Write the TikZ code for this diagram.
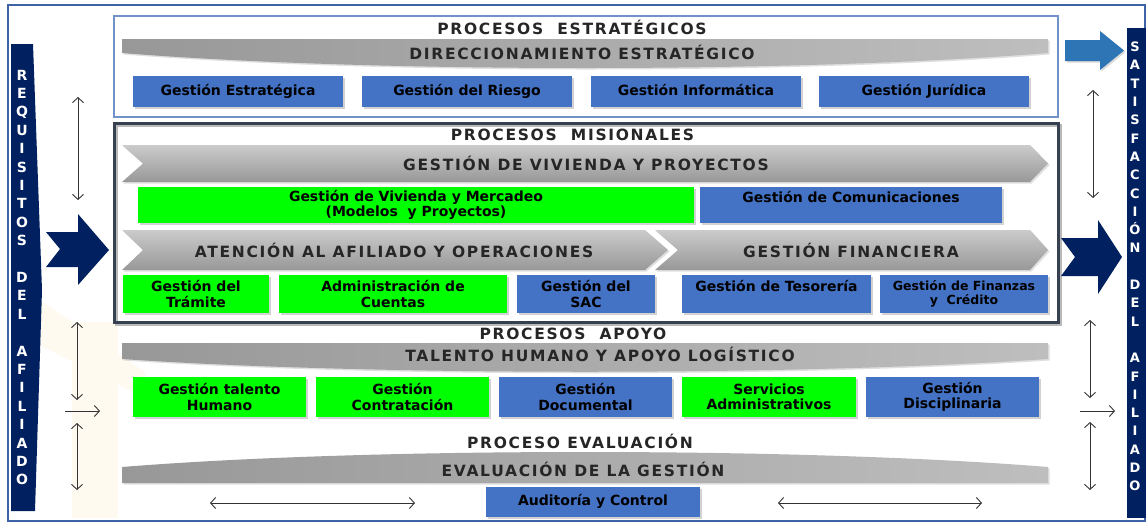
\documentclass[tikz,border=0pt]{standalone}
\usepackage{fontspec}
\setmainfont{DejaVu Sans}
\newfontfamily\headfont[LetterSpace=11]{DejaVu Sans}
\usepackage{tikz}
\usetikzlibrary{arrows.meta, shadows}

\definecolor{boxblue}{RGB}{68,114,196}
\definecolor{boxgreen}{RGB}{0,255,0}
\definecolor{navy}{RGB}{0,32,96}
\definecolor{lightarrow}{RGB}{46,117,182}
\definecolor{frameblue}{RGB}{62,100,168}
\definecolor{stratline}{RGB}{112,146,200}
\definecolor{misline}{RGB}{55,64,80}
\definecolor{bandA}{RGB}{152,152,152}
\definecolor{bandB}{RGB}{190,190,190}
\definecolor{cream}{RGB}{255,250,240}

\tikzset{
  procbox/.style={rectangle, inner sep=1pt, align=center, text=black,
    font=\fontsize{14}{15.5}\selectfont\bfseries,
    drop shadow={shadow xshift=2pt, shadow yshift=-2pt, opacity=0.35}},
  bluebox/.style={procbox, fill=boxblue},
  greenbox/.style={procbox, fill=boxgreen},
  oneline/.style={text height=10.5pt, text depth=3pt},
  titletext/.style={font=\headfont\bfseries\fontsize{15.5}{15.5}\selectfont, text=black!85},
  banner/.style={left color=bandA, right color=bandB,
    drop shadow={shadow xshift=1.5pt, shadow yshift=-1.5pt, opacity=0.25}},
  chevron/.style={top color=bandB!80!white, bottom color=bandA,
    drop shadow={shadow xshift=1.5pt, shadow yshift=-1.5pt, opacity=0.25}},
  twoway/.style={{Straight Barb[length=5pt,width=11pt]}-{Straight Barb[length=5pt,width=11pt]}, line width=0.9pt, black!80},
  oneway/.style={-{Straight Barb[length=5pt,width=11pt]}, line width=0.9pt, black!80},
  sideletters/.style={align=center, text=white, font=\bfseries\fontsize{14}{18.4}\selectfont}
}

\begin{document}
\begin{tikzpicture}[x=1pt, y=-1pt]
\useasboundingbox (0,0) rectangle (1148,523);
\fill[white] (0,0) rectangle (1148,523);

% faint background
\fill[cream] (40,300) -- (145,372) -- (145,398) -- (40,345) -- cycle;
\fill[cream] (72,322) rectangle (118,518);

% frames
\draw[frameblue, line width=2pt] (8,5) rectangle (1145,521);
\draw[stratline, line width=1.2pt] (114,16) rectangle (1058,117);
\draw[gray!55, line width=3pt] (116,125) rectangle (1060,324);
\draw[misline, line width=3pt] (114,123) rectangle (1058,322);

% side bars
\fill[navy] (11,44) -- (33,44) -- (42,290) -- (35,511) -- (11,511) -- cycle;
\fill[navy] (1127,28) rectangle (1146,518);
\node[sideletters] (req) at (22,277.5) {R\\E\\Q\\U\\I\\S\\I\\T\\O\\S\\~\\D\\E\\L\\~\\A\\F\\I\\L\\I\\A\\D\\O};
\node[sideletters, font=\bfseries\fontsize{13}{18.3}\selectfont] (sat) at (1135,266.5) {S\\A\\T\\I\\S\\F\\A\\C\\C\\I\\Ó\\N\\~\\D\\E\\L\\~\\A\\F\\I\\L\\I\\A\\D\\O};

% big arrows
\fill[navy] (46,232) -- (78,232) -- (78,214) -- (109,250) -- (78,285) -- (78,267) -- (46,267) -- (60,249) -- cycle;
\fill[navy] (1061,238) -- (1098,238) -- (1098,220) -- (1122,257) -- (1098,294) -- (1098,276) -- (1061,276) -- (1075,257) -- cycle;
\fill[lightarrow, drop shadow={shadow xshift=1.5pt, shadow yshift=-1.5pt, opacity=0.3}]
  (1065,40) -- (1100,40) -- (1100,31) -- (1124,50.5) -- (1100,70) -- (1100,61) -- (1065,61) -- cycle;

% estrategicos
\node[titletext] (tEst) at (572,27) {PROCESOS\ \ ESTRATÉGICOS};
\path[banner] (122,39) -- (1048,39) -- (1048,53) .. controls (800,73) and (370,73) .. (122,53) -- cycle;
\node[titletext] (dir) at (582,52) {DIRECCIONAMIENTO ESTRATÉGICO};
\node[bluebox, oneline, minimum width=210pt, minimum height=31pt] (ge) at (238,91.5) {Gestión Estratégica};
\node[bluebox, oneline, minimum width=210pt, minimum height=31pt] (gr) at (467,91.5) {Gestión del Riesgo};
\node[bluebox, oneline, minimum width=210pt, minimum height=31pt] (gi) at (696,91.5) {Gestión Informática};
\node[bluebox, oneline, minimum width=210pt, minimum height=31pt] (gj) at (924,91.5) {Gestión Jurídica};

% misionales
\node[titletext] (tMis) at (572.5,135) {PROCESOS\ \ MISIONALES};
\path[chevron] (122,145) -- (1030,145) -- (1048,163.5) -- (1030,182) -- (122,182) -- (143,163.5) -- cycle;
\node[titletext] (viv) at (586,163.5) {GESTIÓN DE VIVIENDA Y PROYECTOS};
\node[greenbox, minimum width=556pt, minimum height=36pt] (gvm) at (416,205) {Gestión de Vivienda y Mercadeo\\(Modelos\ \ y Proyectos)};
\node[bluebox, minimum width=302pt, minimum height=36pt] (gcom) at (851,205) {Gestión de Comunicaciones\\~};
\path[chevron] (122,230) -- (645,230) -- (668,250) -- (645,270) -- (122,270) -- (143,250) -- cycle;
\path[chevron] (655,230) -- (1030,230) -- (1048,250) -- (1030,270) -- (655,270) -- (678,250) -- cycle;
\node[titletext] (ate) at (394,250) {ATENCIÓN AL AFILIADO Y OPERACIONES};
\node[titletext] (fin) at (851,250) {GESTIÓN FINANCIERA};
\node[greenbox, minimum width=146pt, minimum height=38pt] (gtr) at (196,294) {Gestión del\\Trámite};
\node[greenbox, minimum width=228pt, minimum height=38pt] (adm) at (393,294) {Administración de\\Cuentas};
\node[bluebox, minimum width=138pt, minimum height=38pt] (sac) at (586,294) {Gestión del\\SAC};
\node[bluebox, minimum width=189pt, minimum height=38pt] (tes) at (776.5,294) {Gestión de Tesorería\\~};
\node[bluebox, minimum width=168pt, minimum height=38pt, font=\fontsize{12.5}{14}\selectfont\bfseries] (fyc) at (964,294) {Gestión de Finanzas\\y\ \ Crédito};

% apoyo
\node[titletext] (tApo) at (573,334) {PROCESOS\ \ APOYO};
\path[banner] (122,343) -- (1048,343) -- (1048,359) .. controls (800,376) and (370,376) .. (122,359) -- cycle;
\node[titletext] (tal) at (600,354) {TALENTO HUMANO Y APOYO LOGÍSTICO};
\node[greenbox, minimum width=173pt, minimum height=40pt] (gth) at (219.5,397) {Gestión talento\\Humano};
\node[greenbox, minimum width=173pt, minimum height=40pt] (gco) at (402.5,397) {Gestión\\Contratación};
\node[bluebox, minimum width=173pt, minimum height=40pt] (gdo) at (585.5,397) {Gestión\\Documental};
\node[greenbox, minimum width=174pt, minimum height=40pt] (sad) at (769,397) {Servicios\\Administrativos};
\node[bluebox, minimum width=173pt, minimum height=40pt] (gdi) at (952.5,397) {Gestión\\Disciplinaria};

% evaluacion
\node[titletext] (tEva) at (580,441) {PROCESO EVALUACIÓN};
\path[banner] (122,467) .. controls (370,447) and (800,447) .. (1048,467) -- (1048,483) -- (122,483) -- cycle;
\node[titletext] (eva) at (583,469) {EVALUACIÓN DE LA GESTIÓN};
\node[bluebox, oneline, minimum width=214pt, minimum height=30pt] (aud) at (593,502) {Auditoría y Control};

% small arrows
\coordinate (l1a) at (78,97);   \coordinate (l1b) at (78,200);
\coordinate (l2a) at (77,322);  \coordinate (l2b) at (77,400);
\coordinate (l3a) at (77,423);  \coordinate (l3b) at (77,490);
\coordinate (lha) at (65,411);  \coordinate (lhb) at (100,411);
\coordinate (r1a) at (1093,90); \coordinate (r1b) at (1093,198);
\coordinate (r2a) at (1090,320);\coordinate (r2b) at (1090,398);
\coordinate (r3a) at (1090,422);\coordinate (r3b) at (1090,490);
\coordinate (rha) at (1080,411);\coordinate (rhb) at (1115,411);
\coordinate (b1a) at (210,503); \coordinate (b1b) at (415,503);
\coordinate (b2a) at (778,503); \coordinate (b2b) at (982,503);

\path [twoway] (l1a) edge (l1b);
\path [twoway] (l2a) edge (l2b);
\path [twoway] (l3a) edge (l3b);
\path [oneway] (lha) edge (lhb);
\path [twoway] (r1a) edge (r1b);
\path [twoway] (r2a) edge (r2b);
\path [twoway] (r3a) edge (r3b);
\path [oneway] (rha) edge (rhb);
\path [twoway] (b1a) edge (b1b);
\path [twoway] (b2a) edge (b2b);
\end{tikzpicture}
\end{document}
